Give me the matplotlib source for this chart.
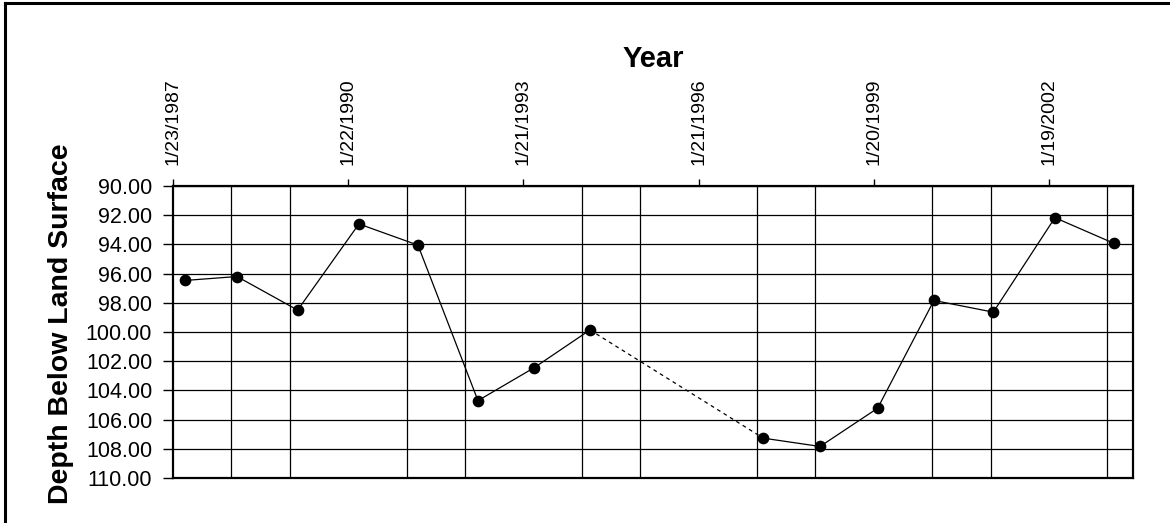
import datetime as dt
import matplotlib
matplotlib.use("Agg")
import matplotlib.pyplot as plt
import matplotlib.dates as mdates
from matplotlib.lines import Line2D

# ---- data ----
sample_dates = ["1987-04-08", "1988-02-27", "1989-03-12", "1990-03-30", "1991-04-03",
                "1992-04-12", "1993-03-30", "1994-03-13", "1997-02-28", "1998-02-18",
                "1999-02-13", "2000-01-31", "2001-02-05", "2002-02-25", "2003-02-27"]
depth = [96.47, 96.2, 98.5, 92.6, 94.05, 104.7, 102.44, 99.86, 107.27, 107.84,
         105.22, 97.84, 98.64, 92.17, 93.92]
gap_after_index = 7  # dashed connection across the data gap (1994 -> 1997)

axis_start = "1987-01-23"
axis_span_days = 6000
major_step_days = 1095
minor_step_days = 365
y_min, y_max, y_step = 90.0, 110.0, 2.0

plt.rcParams['font.family'] = ['Liberation Sans', 'DejaVu Sans']

x = mdates.date2num([dt.datetime.strptime(d, "%Y-%m-%d") for d in sample_dates])
x0 = mdates.date2num(dt.datetime.strptime(axis_start, "%Y-%m-%d"))

fig = plt.figure(figsize=(11.70, 5.23), dpi=100)
ax = fig.add_axes([173/1170, 1 - 478/523, 960/1170, 292/523])

# solid segments
ax.plot(x[:gap_after_index + 1], depth[:gap_after_index + 1], color='black', lw=0.9,
        marker='o', ms=7.4, mfc='black', mec='black', zorder=3)
ax.plot(x[gap_after_index + 1:], depth[gap_after_index + 1:], color='black', lw=0.9,
        marker='o', ms=7.4, mfc='black', mec='black', zorder=3)
# dashed across the gap
ax.plot(x[gap_after_index:gap_after_index + 2], depth[gap_after_index:gap_after_index + 2],
        color='black', lw=0.9, ls=(0, (3, 3)), zorder=2)

ax.set_xlim(x0, x0 + axis_span_days)
ax.set_ylim(y_max, y_min)

major = [x0 + major_step_days * k for k in range(0, axis_span_days // major_step_days + 1)]
minor = [x0 + minor_step_days * k for k in range(0, axis_span_days // minor_step_days + 1)]
ax.set_xticks(major)
ax.set_xticks(minor, minor=True)
labels = []
for m in major:
    d = mdates.num2date(m)
    labels.append(f"{d.month}/{d.day}/{d.year}")
ax.set_xticklabels(labels, rotation=90, fontsize=14)
ax.xaxis.tick_top()
ax.tick_params(axis='x', which='major', length=5, width=1, pad=10, top=True, bottom=False,
               labeltop=True, labelbottom=False)
ax.tick_params(axis='x', which='minor', length=0, top=False, bottom=False)

yt = [y_min + y_step * k for k in range(int((y_max - y_min) / y_step) + 1)]
ax.set_yticks(yt)
ax.set_yticklabels([f"{v:.2f}" for v in yt], fontsize=15.5)
ax.tick_params(axis='y', length=7, width=1, pad=8)

ax.grid(True, which='minor', axis='x', color='black', lw=0.9)
ax.grid(True, which='major', axis='y', color='black', lw=0.9)
ax.set_axisbelow(True)
for s in ax.spines.values():
    s.set_linewidth(1.6)
    s.set_color('black')

ax.xaxis.set_label_position('top')
ax.set_xlabel("Year", fontsize=21, fontweight='bold', labelpad=8)
ax.set_ylabel("Depth Below Land Surface", fontsize=20.5, fontweight='bold')
ax.yaxis.set_label_coords(-0.103, 0.527)

# outer frame remnants (left and top border)
fig.add_artist(Line2D([5/1170, 5/1170], [0, 1 - 3/523], transform=fig.transFigure,
                      color='black', lw=2.2))
fig.add_artist(Line2D([5/1170, 1], [1 - 3/523, 1 - 3/523], transform=fig.transFigure,
                      color='black', lw=2.2))

fig.savefig("out.png", dpi=100)
